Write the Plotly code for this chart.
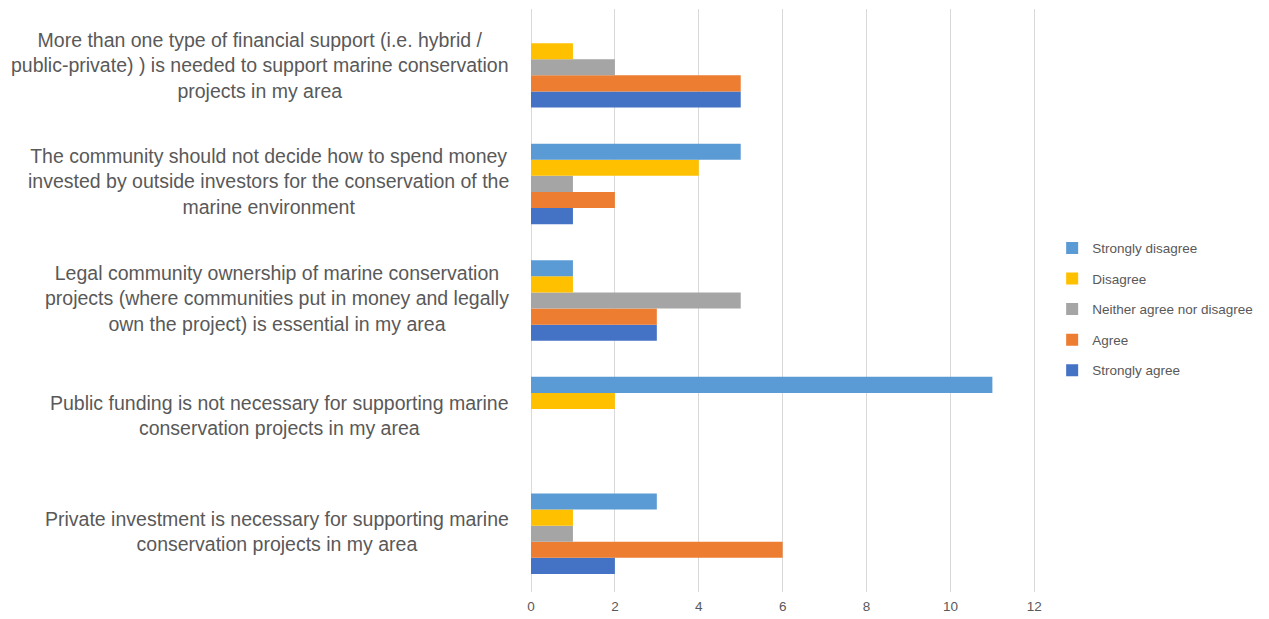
import plotly.graph_objects as go

# Survey statements (bottom to top on the chart)
statements = [
    "Private investment is necessary for supporting marine<br>conservation projects in my area",
    "Public funding is not necessary for supporting marine<br>conservation projects in my area",
    "Legal community ownership of marine conservation<br>projects (where communities put in money and legally<br>own the project) is essential in my area",
    "The community should not decide how to spend money<br>invested by outside investors for the conservation of the<br>marine environment",
    "More than one type of financial support (i.e. hybrid /<br>public-private) ) is needed to support marine conservation<br>projects in my area",
]

strongly_agree = [2, 0, 3, 1, 5]
agree = [6, 0, 3, 2, 5]
neither = [1, 0, 5, 1, 2]
disagree = [1, 2, 1, 4, 1]
strongly_disagree = [3, 11, 1, 5, 0]

# (name, values, colour, legend rank)
series = [
    ("Strongly agree", strongly_agree, "#4472C4", 5),
    ("Agree", agree, "#ED7D31", 4),
    ("Neither agree nor disagree", neither, "#A5A5A5", 3),
    ("Disagree", disagree, "#FFC000", 2),
    ("Strongly disagree", strongly_disagree, "#5B9BD5", 1),
]

x_ticks = [0, 2, 4, 6, 8, 10, 12]

FONT = "Liberation Sans, Arial, sans-serif"
GREY = "#595959"
GRID = "#D9D9D9"

fig = go.Figure()
for name, vals, color, rank in series:
    fig.add_trace(go.Bar(
        y=list(range(len(statements))),
        x=vals,
        name=name,
        orientation="h",
        marker=dict(color=color, line=dict(width=0)),
        legendgroup=name,
        legendrank=rank,
    ))

# Centered multi-line category labels
for i, s in enumerate(statements):
    fig.add_annotation(
        x=0, xref="paper", xanchor="right", xshift=-20,
        y=i, yref="y", yanchor="middle", yshift=2,
        text=s, showarrow=False, align="center",
        font=dict(family=FONT, size=19.5, color=GREY),
    )

fig.update_layout(
    width=1269, height=619,
    margin=dict(l=531, r=233, t=9, b=27, autoexpand=False),
    paper_bgcolor="white", plot_bgcolor="white",
    barmode="group", bargap=0.31, bargroupgap=0,
    showlegend=True,
    legend=dict(
        x=1.032, xanchor="left", y=0.485, yanchor="middle",
        traceorder="grouped", tracegroupgap=10,
        font=dict(family=FONT, size=13.5, color=GREY),
        bgcolor="rgba(0,0,0,0)",
    ),
    xaxis=dict(
        range=[0, 12.04], tickvals=x_ticks, showgrid=True, gridcolor=GRID, gridwidth=1,
        zeroline=True, zerolinecolor=GRID, zerolinewidth=1,
        showline=False, ticks="", ticklabelstandoff=4,
        tickfont=dict(family=FONT, size=13.5, color=GREY),
    ),
    yaxis=dict(
        range=[-0.5, len(statements) - 0.5], showticklabels=False, showgrid=False,
        zeroline=False, showline=False, ticks="",
    ),
)

fig.write_html("out.html")
